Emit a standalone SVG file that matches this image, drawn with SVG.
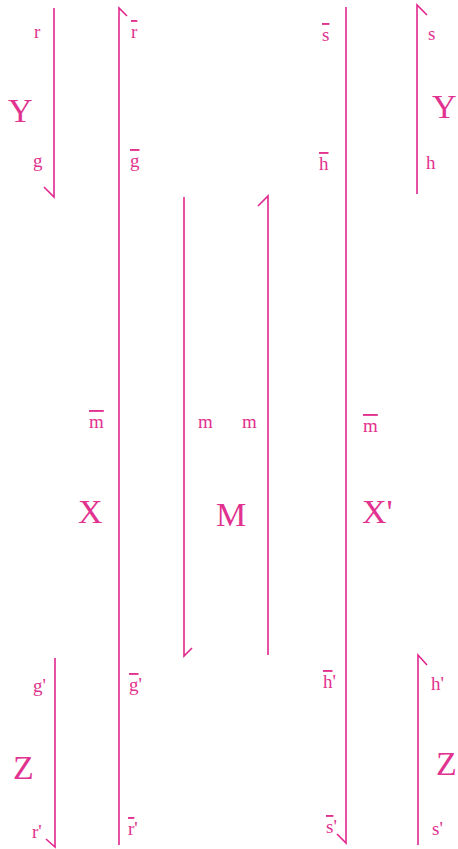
<svg xmlns="http://www.w3.org/2000/svg" width="458" height="849" viewBox="0 0 458 849">
<style>
.s{stroke:#e2268f;stroke-width:1.6;fill:none;stroke-linecap:butt}
.t{font-family:"Liberation Serif","Times New Roman",serif;font-size:19px;fill:#e2328f}
.b{font-family:"Liberation Serif","Times New Roman",serif;font-size:34px;fill:#e2328f}
.o{text-decoration:overline}
</style>
<rect width="458" height="849" fill="#ffffff"/>
<g id="connectors">
<g id="strand-Y-left"><path class="s" d="M54,8 V197 L44,187"/></g>
<g id="strand-X-left"><path class="s" d="M127,16 L119,8 V845"/></g>
<g id="strand-M-left"><path class="s" d="M184,197 V656 L192,648"/></g>
<g id="strand-M-right"><path class="s" d="M258,206 L268,196 V655"/></g>
<g id="strand-X-right"><path class="s" d="M346,7 V843 L337,834"/></g>
<g id="strand-Y-right"><path class="s" d="M427,15 L417,5 V194"/></g>
<g id="strand-Z-left"><path class="s" d="M55,658 V847 L46,839"/></g>
<g id="strand-Z-right"><path class="s" d="M427,665 L418,655 V845"/></g>
</g>
<g id="node-Y-left">
<text class="b" x="8" y="122">Y</text>
<text class="t" x="34" y="38">r</text>
<text class="t" x="33" y="167">g</text>
</g>
<g id="node-X-left">
<text class="t" x="131" y="38"><tspan class="o">r</tspan></text>
<text class="t" x="130" y="167"><tspan class="o">g</tspan></text>
<text class="t" x="89" y="428"><tspan class="o">m</tspan></text>
<text class="b" x="78" y="523">X</text>
<text class="t" x="129" y="691"><tspan class="o">g</tspan>'</text>
<text class="t" x="128" y="835"><tspan class="o">r</tspan>'</text>
</g>
<g id="node-M">
<text class="t" x="198" y="428">m</text>
<text class="t" x="242" y="428">m</text>
<text class="b" x="216" y="526">M</text>
</g>
<g id="node-X-right">
<text class="t" x="322" y="41"><tspan class="o">s</tspan></text>
<text class="t" x="319" y="170"><tspan class="o">h</tspan></text>
<text class="t" x="363" y="432"><tspan class="o">m</tspan></text>
<text class="b" x="362" y="523">X'</text>
<text class="t" x="323" y="688"><tspan class="o">h</tspan>'</text>
<text class="t" x="326" y="833"><tspan class="o">s</tspan>'</text>
</g>
<g id="node-Y-right">
<text class="t" x="428" y="40">s</text>
<text class="t" x="426" y="169">h</text>
<text class="b" x="432" y="118">Y</text>
</g>
<g id="node-Z-left">
<text class="t" x="33" y="692">g'</text>
<text class="b" x="13" y="779">Z</text>
<text class="t" x="32" y="838">r'</text>
</g>
<g id="node-Z-right">
<text class="t" x="431" y="690">h'</text>
<text class="b" x="436" y="775">Z</text>
<text class="t" x="432" y="835">s'</text>
</g>
</svg>
